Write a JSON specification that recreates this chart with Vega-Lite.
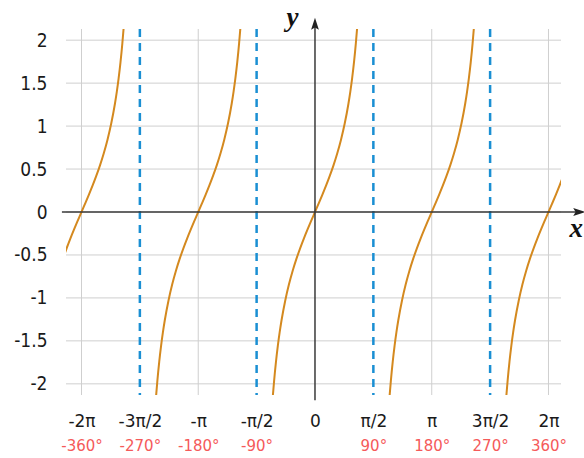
{
  "$schema": "https://vega.github.io/schema/vega-lite/v6.json",
  "width": 495,
  "height": 366,
  "autosize": {"type": "none"},
  "padding": {"left": 66, "top": 29, "right": 23, "bottom": 63},
  "background": "white",
  "config": {"view": {"stroke": null}},
  "datasets": {
    "curve": [
      {"b": 1, "x": -6.7832, "y": -0.5463}, {"b": 1, "x": -6.6832, "y": -0.4228}, {"b": 1, "x": -6.5832, "y": -0.3093}, {"b": 1, "x": -6.4832, "y": -0.2027}, {"b": 1, "x": -6.3832, "y": -0.1003}, {"b": 1, "x": -6.2832, "y": 0}, {"b": 1, "x": -6.1832, "y": 0.1003}, {"b": 1, "x": -6.0832, "y": 0.2027}, {"b": 1, "x": -5.9832, "y": 0.3093}, {"b": 1, "x": -5.8832, "y": 0.4228}, {"b": 1, "x": -5.7832, "y": 0.5463}, {"b": 1, "x": -5.6832, "y": 0.6841}, {"b": 1, "x": -5.5832, "y": 0.8423}, {"b": 1, "x": -5.4832, "y": 1.0296}, {"b": 1, "x": -5.3832, "y": 1.2602}, {"b": 1, "x": -5.3332, "y": 1.3984}, {"b": 1, "x": -5.2832, "y": 1.5574}, {"b": 1, "x": -5.2332, "y": 1.7433}, {"b": 1, "x": -5.1832, "y": 1.9648}, {"b": 1, "x": -5.151, "y": 2.1316},
      {"b": 2, "x": -4.2738, "y": -2.1316}, {"b": 2, "x": -4.2416, "y": -1.9648}, {"b": 2, "x": -4.1916, "y": -1.7433}, {"b": 2, "x": -4.1416, "y": -1.5574}, {"b": 2, "x": -4.0916, "y": -1.3984}, {"b": 2, "x": -4.0416, "y": -1.2602}, {"b": 2, "x": -3.9416, "y": -1.0296}, {"b": 2, "x": -3.8416, "y": -0.8423}, {"b": 2, "x": -3.7416, "y": -0.6841}, {"b": 2, "x": -3.6416, "y": -0.5463}, {"b": 2, "x": -3.5416, "y": -0.4228}, {"b": 2, "x": -3.4416, "y": -0.3093}, {"b": 2, "x": -3.3416, "y": -0.2027}, {"b": 2, "x": -3.2416, "y": -0.1003}, {"b": 2, "x": -3.1416, "y": 0}, {"b": 2, "x": -3.0416, "y": 0.1003}, {"b": 2, "x": -2.9416, "y": 0.2027}, {"b": 2, "x": -2.8416, "y": 0.3093}, {"b": 2, "x": -2.7416, "y": 0.4228}, {"b": 2, "x": -2.6416, "y": 0.5463}, {"b": 2, "x": -2.5416, "y": 0.6841}, {"b": 2, "x": -2.4416, "y": 0.8423}, {"b": 2, "x": -2.3416, "y": 1.0296}, {"b": 2, "x": -2.2416, "y": 1.2602}, {"b": 2, "x": -2.1916, "y": 1.3984}, {"b": 2, "x": -2.1416, "y": 1.5574}, {"b": 2, "x": -2.0916, "y": 1.7433}, {"b": 2, "x": -2.0416, "y": 1.9648}, {"b": 2, "x": -2.0094, "y": 2.1316},
      {"b": 3, "x": -1.1322, "y": -2.1316}, {"b": 3, "x": -1.1, "y": -1.9648}, {"b": 3, "x": -1.05, "y": -1.7433}, {"b": 3, "x": -1.0, "y": -1.5574}, {"b": 3, "x": -0.95, "y": -1.3984}, {"b": 3, "x": -0.9, "y": -1.2602}, {"b": 3, "x": -0.8, "y": -1.0296}, {"b": 3, "x": -0.7, "y": -0.8423}, {"b": 3, "x": -0.6, "y": -0.6841}, {"b": 3, "x": -0.5, "y": -0.5463}, {"b": 3, "x": -0.4, "y": -0.4228}, {"b": 3, "x": -0.3, "y": -0.3093}, {"b": 3, "x": -0.2, "y": -0.2027}, {"b": 3, "x": -0.1, "y": -0.1003}, {"b": 3, "x": 0, "y": 0}, {"b": 3, "x": 0.1, "y": 0.1003}, {"b": 3, "x": 0.2, "y": 0.2027}, {"b": 3, "x": 0.3, "y": 0.3093}, {"b": 3, "x": 0.4, "y": 0.4228}, {"b": 3, "x": 0.5, "y": 0.5463}, {"b": 3, "x": 0.6, "y": 0.6841}, {"b": 3, "x": 0.7, "y": 0.8423}, {"b": 3, "x": 0.8, "y": 1.0296}, {"b": 3, "x": 0.9, "y": 1.2602}, {"b": 3, "x": 0.95, "y": 1.3984}, {"b": 3, "x": 1.0, "y": 1.5574}, {"b": 3, "x": 1.05, "y": 1.7433}, {"b": 3, "x": 1.1, "y": 1.9648}, {"b": 3, "x": 1.1322, "y": 2.1316},
      {"b": 4, "x": 2.0094, "y": -2.1316}, {"b": 4, "x": 2.0416, "y": -1.9648}, {"b": 4, "x": 2.0916, "y": -1.7433}, {"b": 4, "x": 2.1416, "y": -1.5574}, {"b": 4, "x": 2.1916, "y": -1.3984}, {"b": 4, "x": 2.2416, "y": -1.2602}, {"b": 4, "x": 2.3416, "y": -1.0296}, {"b": 4, "x": 2.4416, "y": -0.8423}, {"b": 4, "x": 2.5416, "y": -0.6841}, {"b": 4, "x": 2.6416, "y": -0.5463}, {"b": 4, "x": 2.7416, "y": -0.4228}, {"b": 4, "x": 2.8416, "y": -0.3093}, {"b": 4, "x": 2.9416, "y": -0.2027}, {"b": 4, "x": 3.0416, "y": -0.1003}, {"b": 4, "x": 3.1416, "y": 0}, {"b": 4, "x": 3.2416, "y": 0.1003}, {"b": 4, "x": 3.3416, "y": 0.2027}, {"b": 4, "x": 3.4416, "y": 0.3093}, {"b": 4, "x": 3.5416, "y": 0.4228}, {"b": 4, "x": 3.6416, "y": 0.5463}, {"b": 4, "x": 3.7416, "y": 0.6841}, {"b": 4, "x": 3.8416, "y": 0.8423}, {"b": 4, "x": 3.9416, "y": 1.0296}, {"b": 4, "x": 4.0416, "y": 1.2602}, {"b": 4, "x": 4.0916, "y": 1.3984}, {"b": 4, "x": 4.1416, "y": 1.5574}, {"b": 4, "x": 4.1916, "y": 1.7433}, {"b": 4, "x": 4.2416, "y": 1.9648}, {"b": 4, "x": 4.2738, "y": 2.1316},
      {"b": 5, "x": 5.151, "y": -2.1316}, {"b": 5, "x": 5.1832, "y": -1.9648}, {"b": 5, "x": 5.2332, "y": -1.7433}, {"b": 5, "x": 5.2832, "y": -1.5574}, {"b": 5, "x": 5.3332, "y": -1.3984}, {"b": 5, "x": 5.3832, "y": -1.2602}, {"b": 5, "x": 5.4832, "y": -1.0296}, {"b": 5, "x": 5.5832, "y": -0.8423}, {"b": 5, "x": 5.6832, "y": -0.6841}, {"b": 5, "x": 5.7832, "y": -0.5463}, {"b": 5, "x": 5.8832, "y": -0.4228}, {"b": 5, "x": 5.9832, "y": -0.3093}, {"b": 5, "x": 6.0832, "y": -0.2027}, {"b": 5, "x": 6.1832, "y": -0.1003}, {"b": 5, "x": 6.2832, "y": 0}, {"b": 5, "x": 6.3832, "y": 0.1003}, {"b": 5, "x": 6.4832, "y": 0.2027}, {"b": 5, "x": 6.5832, "y": 0.3093}, {"b": 5, "x": 6.6832, "y": 0.4228}
    ]
  },
  "resolve": {"axis": {"x": "independent"}},
  "layer": [
    {
      "data": {"values": [{"y": -2}, {"y": -1.5}, {"y": -1}, {"y": -0.5}, {"y": 0}, {"y": 0.5}, {"y": 1}, {"y": 1.5}, {"y": 2}]},
      "mark": {"type": "rule", "color": "#cfcfcf", "strokeWidth": 1},
      "encoding": {
        "y": {
          "field": "y", "type": "quantitative",
          "scale": {"domain": [-2.13, 2.13], "nice": false, "zero": false},
          "axis": {
            "orient": "left",
            "values": [-2, -1.5, -1, -0.5, 0, 0.5, 1, 1.5, 2],
            "labelExpr": "'' + datum.value",
            "domain": false, "ticks": false, "grid": false,
            "labelPadding": 19, "labelFont": "Liberation Sans Narrow, DejaVu Sans Condensed, sans-serif", "labelFontSize": 19,
            "labelColor": "#1a1a1a", "labelFlush": false, "labelOverlap": false, "title": null
          }
        }
      }
    },
    {
      "data": {"values": [{"x": -6.283185}, {"x": -3.141593}, {"x": 3.141593}, {"x": 6.283185}]},
      "mark": {"type": "rule", "color": "#cfcfcf", "strokeWidth": 1},
      "encoding": {
        "x": {
          "field": "x", "type": "quantitative",
          "scale": {"domain": [-6.70, 6.62], "nice": false, "zero": false},
          "axis": {
            "orient": "bottom",
            "values": [-6.283185, -4.712389, -3.141593, -1.570796, 0, 1.570796, 3.141593, 4.712389, 6.283185],
            "labelExpr": "['-2π','-3π/2','-π','-π/2','0','π/2','π','3π/2','2π'][round(datum.value*2/PI)+4]",
            "domain": false, "ticks": false, "grid": false,
            "labelPadding": 18, "labelFont": "DejaVu Sans", "labelFontSize": 17,
            "labelColor": "#1a1a1a", "labelFlush": false, "labelOverlap": false, "title": null
          }
        }
      }
    },
    {
      "data": {"values": [{"x": -4.712389}, {"x": -1.570796}, {"x": 1.570796}, {"x": 4.712389}]},
      "mark": {"type": "rule", "color": "#1a8fd3", "strokeWidth": 2.5, "strokeDash": [8, 6]},
      "encoding": {
        "x": {
          "field": "x", "type": "quantitative",
          "scale": {"domain": [-6.70, 6.62], "nice": false, "zero": false},
          "axis": {
            "orient": "bottom",
            "values": [-6.283185, -4.712389, -3.141593, -1.570796, 1.570796, 3.141593, 4.712389, 6.283185],
            "labelExpr": "round(datum.value*2/PI)*90 + '°'",
            "domain": false, "ticks": false, "grid": false,
            "labelPadding": 43, "labelFont": "DejaVu Sans", "labelFontSize": 15,
            "labelColor": "#f55a5a", "labelFlush": false, "labelOverlap": false, "title": null
          }
        }
      }
    },
    {
      "data": {"name": "curve"},
      "mark": {"type": "line", "color": "#d4891f", "strokeWidth": 2, "clip": true, "interpolate": "monotone"},
      "encoding": {
        "x": {"field": "x", "type": "quantitative", "scale": {"domain": [-6.70, 6.62], "nice": false, "zero": false}, "axis": null},
        "y": {"field": "y", "type": "quantitative", "scale": {"domain": [-2.13, 2.13], "nice": false, "zero": false}},
        "detail": {"field": "b", "type": "nominal"}
      }
    },
    {
      "data": {"values": [{"x1": -6.81, "x2": 7.05, "y1": 0, "y2": 0}, {"x1": 0, "x2": 0, "y1": -2.19, "y2": 2.2}]},
      "mark": {"type": "rule", "color": "#3a3a3a", "strokeWidth": 1.5},
      "encoding": {
        "x": {"field": "x1", "type": "quantitative", "scale": {"domain": [-6.70, 6.62], "nice": false, "zero": false}, "axis": null},
        "x2": {"field": "x2"},
        "y": {"field": "y1", "type": "quantitative", "scale": {"domain": [-2.13, 2.13], "nice": false, "zero": false}},
        "y2": {"field": "y2"}
      }
    },
    {
      "data": {"values": [{"x": 7.11, "y": 0}]},
      "mark": {"type": "point", "shape": "M-1,-0.65L1,0L-1,0.65L-0.6,0Z", "size": 144, "filled": true, "color": "#222", "opacity": 1},
      "encoding": {
        "x": {"field": "x", "type": "quantitative", "scale": {"domain": [-6.70, 6.62], "nice": false, "zero": false}, "axis": null},
        "y": {"field": "y", "type": "quantitative", "scale": {"domain": [-2.13, 2.13], "nice": false, "zero": false}}
      }
    },
    {
      "data": {"values": [{"x": 0, "y": 2.19}]},
      "mark": {"type": "point", "shape": "M-0.65,1L0,-1L0.65,1L0,0.6Z", "size": 144, "filled": true, "color": "#222", "opacity": 1},
      "encoding": {
        "x": {"field": "x", "type": "quantitative", "scale": {"domain": [-6.70, 6.62], "nice": false, "zero": false}, "axis": null},
        "y": {"field": "y", "type": "quantitative", "scale": {"domain": [-2.13, 2.13], "nice": false, "zero": false}}
      }
    },
    {
      "data": {"values": [{"x": 6.85, "y": -0.29, "t": "x", "a": "left"}, {"x": -0.606, "y": 2.163, "t": "y", "a": "center"}]},
      "mark": {"type": "text", "font": "Liberation Serif", "fontSize": 27, "fontStyle": "italic", "fontWeight": "bold", "color": "#111", "baseline": "alphabetic", "align": {"expr": "datum.a"}},
      "encoding": {
        "x": {"field": "x", "type": "quantitative", "scale": {"domain": [-6.70, 6.62], "nice": false, "zero": false}, "axis": null},
        "y": {"field": "y", "type": "quantitative", "scale": {"domain": [-2.13, 2.13], "nice": false, "zero": false}},
        "text": {"field": "t"}
      }
    }
  ]
}
